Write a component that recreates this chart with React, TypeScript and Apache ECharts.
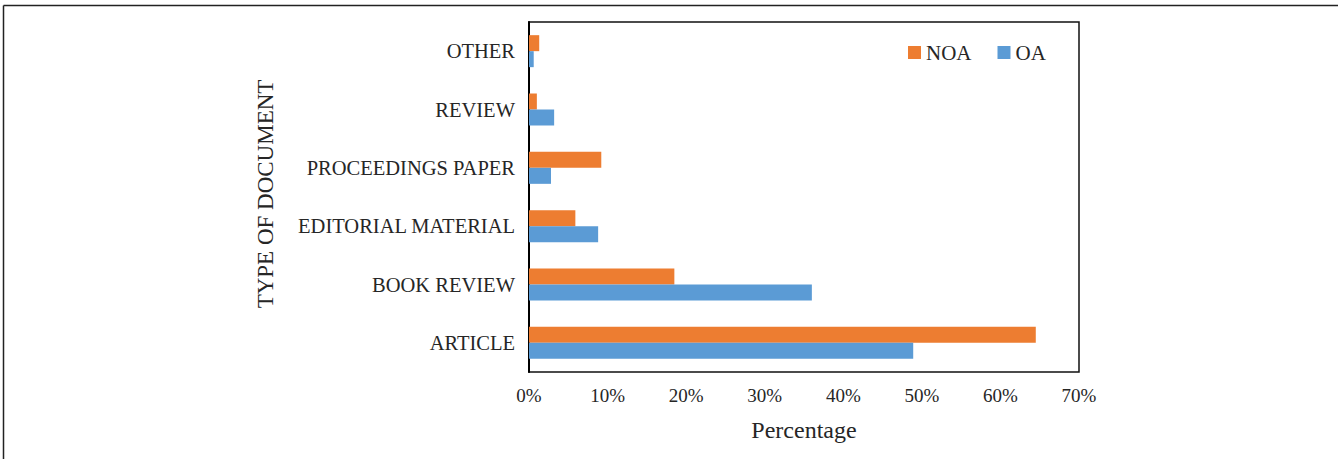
import React, { useEffect, useRef } from "react";
import * as echarts from "echarts";

const categories = ["ARTICLE", "BOOK REVIEW", "EDITORIAL MATERIAL", "PROCEEDINGS PAPER", "REVIEW", "OTHER"];
const noaValues = [64.5, 18.5, 5.9, 9.2, 1.0, 1.3];
const oaValues = [48.9, 36.0, 8.8, 2.8, 3.2, 0.6];
const seriesNames = ["NOA", "OA"];

const FONT = "'Liberation Serif', 'Times New Roman', serif";
const TEXT = "#262626";

export default function App() {
  const ref = useRef<HTMLDivElement>(null);
  useEffect(() => {
    document.body.style.margin = "0";
    const chart = echarts.init(ref.current!, null, { renderer: "svg" });
    chart.setOption({
      animation: false,
      backgroundColor: "#fff",
      textStyle: { fontFamily: FONT, color: TEXT },
      graphic: [
        { type: "line", shape: { x1: 3.5, y1: 5.5, x2: 1338, y2: 5.5 }, style: { stroke: "#222", lineWidth: 1.5 } },
        { type: "line", shape: { x1: 3.5, y1: 5.5, x2: 3.5, y2: 459 }, style: { stroke: "#222", lineWidth: 1.5 } },
      ],
      legend: {
        data: seriesNames,
        left: 908,
        top: 42,
        padding: 0,
        itemWidth: 13,
        itemHeight: 13,
        itemGap: 26,
        icon: "rect",
        textStyle: { fontFamily: FONT, fontSize: 21, color: TEXT },
      },
      grid: {
        left: 529,
        top: 22,
        right: 259,
        bottom: 87,
        show: true,
        borderColor: "#111",
        borderWidth: 1.5,
        containLabel: false,
      },
      xAxis: {
        type: "value",
        min: 0,
        max: 70,
        interval: 10,
        axisLabel: { formatter: "{value}%", fontFamily: FONT, fontSize: 19, color: TEXT, margin: 14 },
        axisLine: { show: false },
        axisTick: { show: false },
        splitLine: { show: false },
        name: "Percentage",
        nameLocation: "middle",
        nameGap: 46,
        nameTextStyle: { fontFamily: FONT, fontSize: 24, color: TEXT },
      },
      yAxis: {
        type: "category",
        data: categories,
        axisLine: { show: true, lineStyle: { color: "#000", width: 2 } },
        axisTick: { show: false },
        axisLabel: { fontFamily: FONT, fontSize: 20.5, color: TEXT, margin: 14 },
        name: "TYPE OF DOCUMENT",
        nameLocation: "middle",
        nameRotate: 90,
        nameGap: 252,
        nameTextStyle: { fontFamily: FONT, fontSize: 23, color: TEXT, padding: [0, 0, 0, 6] },
      },
      series: [
        {
          name: "NOA",
          type: "bar",
          data: noaValues,
          barWidth: 16,
          barGap: "0%",
          itemStyle: { color: "#ED7D31" },
        },
        {
          name: "OA",
          type: "bar",
          data: oaValues,
          barWidth: 16,
          barGap: "0%",
          itemStyle: { color: "#5B9BD5" },
        },
      ],
    });
    return () => chart.dispose();
  }, []);
  return <div ref={ref} style={{ width: 1338, height: 459 }} />;
}
